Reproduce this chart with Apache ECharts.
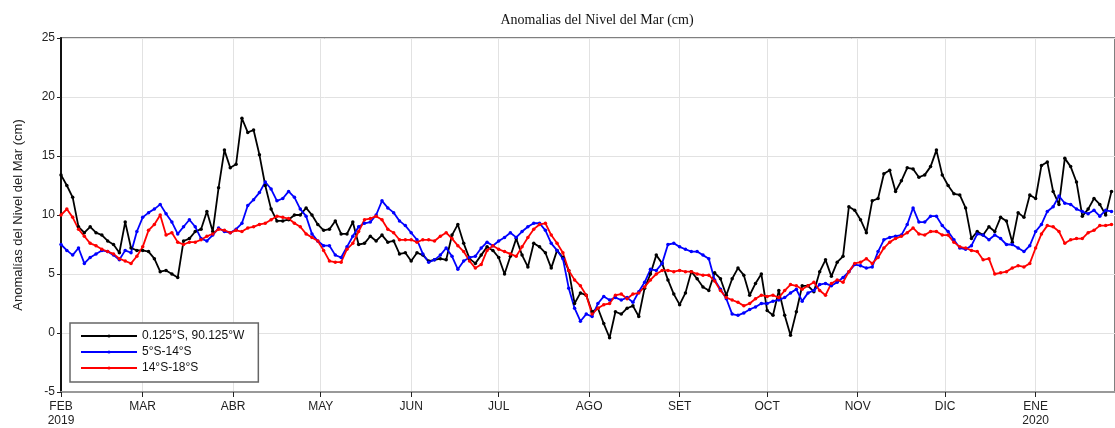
<!DOCTYPE html>
<html>
<head>
<meta charset="utf-8">
<script src="https://cdn.jsdelivr.net/npm/echarts@6/dist/echarts.min.js"></script>
<style>
  html, body { margin: 0; padding: 0; background: #fff; }
  #chart { width: 1115px; height: 428px; }
</style>
</head>
<body>
<div id="chart"></div>
<script>
// Daily sea-level anomaly series (cm), one value every 2 days starting 1 Feb 2019
const startDate = Date.UTC(2019, 1, 1);
const stepDays = 2;

const seriesNames = ['0.125°S, 90.125°W', '5°S-14°S', '14°S-18°S'];

const ecuatorial = [
  13.4,12.5,11.5,9.0,8.5,9.0,8.5,8.3,7.8,7.5,
  6.8,9.4,7.2,7.0,7.0,6.9,6.3,5.2,5.3,5.0,
  4.7,7.8,8.0,8.6,8.8,10.3,8.6,12.3,15.5,14.0,
  14.3,18.2,17.0,17.2,15.1,12.5,10.5,9.5,9.5,9.6,
  10.0,10.0,10.6,10.0,9.2,8.7,8.8,9.5,8.4,8.4,
  9.4,7.5,7.6,8.2,7.8,8.3,7.7,7.8,6.7,6.8,
  6.1,6.8,6.6,6.1,6.2,6.3,6.2,8.3,9.2,7.6,
  6.3,5.9,6.6,7.3,7.0,6.4,5.0,6.5,8.0,6.6,
  5.6,7.6,7.3,6.8,5.5,7.0,6.4,5.3,2.5,3.4,
  3.2,1.8,2.1,0.8,-0.4,1.8,1.6,2.1,2.3,1.4,
  3.8,5.0,6.6,5.9,4.5,3.3,2.4,3.4,5.2,4.6,
  3.9,3.6,5.1,4.6,3.2,4.6,5.5,4.9,3.2,4.2,
  5.0,1.9,1.5,3.6,1.5,-0.2,1.8,4.0,4.0,3.5,
  5.2,6.2,4.8,6.0,6.5,10.7,10.4,9.6,8.5,11.2,
  11.4,13.5,13.8,12.0,12.9,14.0,13.9,13.2,13.4,14.1,
  15.5,13.4,12.5,11.8,11.7,10.6,8.0,8.6,8.3,9.0,
  8.6,9.8,9.5,7.7,10.2,9.8,11.7,11.4,14.2,14.5,
  12.0,10.9,14.8,14.1,12.8,9.9,10.5,11.4,10.9,10.0,
  12.0
];

const franja5a14 = [
  7.5,7.0,6.6,7.2,5.9,6.4,6.7,7.0,6.9,6.6,
  6.2,7.0,6.8,8.6,9.8,10.2,10.5,10.9,10.1,9.4,
  8.4,9.0,9.6,9.0,8.0,7.8,8.3,8.9,8.6,8.5,
  8.8,9.3,10.8,11.3,11.9,12.8,12.2,11.2,11.4,12.0,
  11.5,10.5,9.9,8.4,7.8,7.4,7.4,6.6,6.4,7.3,
  8.2,9.0,9.3,9.4,10.0,11.2,10.6,10.2,9.5,9.1,
  8.5,7.9,6.7,6.0,6.2,6.6,7.2,6.5,5.4,6.1,
  6.4,6.5,7.2,7.7,7.4,7.8,8.1,8.5,8.1,8.6,
  9.0,9.3,9.3,8.7,7.6,7.0,6.3,3.8,2.1,1.0,
  1.6,1.4,2.5,3.1,2.8,3.0,2.8,3.0,2.6,3.5,
  4.3,5.4,5.3,5.9,7.5,7.6,7.3,7.1,6.9,6.9,
  6.6,6.3,4.5,3.7,2.9,1.6,1.5,1.7,2.0,2.2,
  2.5,2.5,2.7,2.8,3.0,3.4,3.7,2.7,3.4,3.6,
  4.1,4.2,4.0,4.3,4.7,5.2,5.8,5.7,5.5,5.6,
  6.9,7.9,8.1,8.2,8.3,9.2,10.6,9.4,9.4,9.9,
  9.9,9.1,8.6,7.9,7.2,7.1,7.4,8.4,8.3,7.9,
  8.3,8.0,7.5,7.5,7.2,6.9,7.4,8.6,9.2,10.3,
  10.7,11.6,11.0,10.9,10.5,10.3,10.1,10.4,9.9,10.4,
  10.3
];

const franja14a18 = [
  10.0,10.5,9.8,8.8,8.2,7.6,7.4,7.1,6.9,6.7,
  6.3,6.1,5.9,6.5,7.3,8.7,9.2,10.0,8.3,8.5,
  7.7,7.5,7.7,7.7,7.9,8.2,8.4,8.8,8.7,8.5,
  8.7,8.6,8.9,9.0,9.2,9.3,9.6,9.9,9.8,9.7,
  9.3,9.0,8.4,8.1,7.8,7.0,6.1,6.0,6.0,7.1,
  7.6,8.6,9.6,9.7,9.9,9.6,8.8,8.5,7.9,7.9,
  7.9,7.7,7.9,7.9,7.8,8.2,8.5,8.0,7.4,6.9,
  6.1,5.5,5.8,7.0,7.4,7.1,6.9,6.7,6.5,7.3,
  8.1,8.8,9.2,9.3,8.3,7.6,6.8,5.3,4.5,4.0,
  3.2,1.6,2.1,2.4,2.5,3.2,3.3,2.9,3.3,3.4,
  3.9,4.5,5.0,5.3,5.3,5.2,5.3,5.2,5.2,5.0,
  4.9,4.9,4.4,3.6,3.0,2.8,2.6,2.3,2.5,2.9,
  3.2,3.1,3.2,3.0,3.6,4.1,4.0,3.7,4.0,4.3,
  3.6,3.2,4.2,4.5,4.3,5.2,5.9,6.0,6.3,5.9,
  6.4,7.2,7.7,8.0,8.2,8.5,8.9,8.4,8.3,8.6,
  8.6,8.3,8.3,7.7,7.3,7.2,7.0,6.9,6.2,6.3,
  5.0,5.1,5.2,5.5,5.7,5.6,5.9,7.2,8.4,9.1,
  9.0,8.6,7.6,7.9,8.0,8.0,8.5,8.7,9.1,9.1,
  9.2
];

// Month tick labels, one per month starting Feb 2019
const monthLabels = ['FEB\n2019','MAR','ABR','MAY','JUN','JUL','AGO','SET','OCT','NOV','DIC','ENE\n2020'];
const yTicks = { min: -5, max: 25, interval: 5 };

// x is measured in days since the start date
const DAY = 86400000;
const monthTicks = monthLabels.map((_, k) => Math.round((Date.UTC(2019, 1 + k, 1) - startDate) / DAY));
const toPoints = vals => vals.map((v, i) => [i * stepDays, v]);

const chart = echarts.init(document.getElementById('chart'), null, { renderer: 'canvas' });

const lineSeries = (name, vals, color) => ({
  name: name,
  type: 'line',
  data: toPoints(vals),
  symbol: 'circle',
  symbolSize: 3.5,
  showSymbol: true,
  showAllSymbol: true,
  lineStyle: { color: color, width: 1.8 },
  itemStyle: { color: color },
  emphasis: { disabled: true }
});

chart.setOption({
  animation: false,
  backgroundColor: '#fff',
  title: {
    text: 'Anomalias del Nivel del Mar (cm)',
    left: 592,
    top: 8,
    textAlign: 'center',
    textStyle: { fontFamily: 'Liberation Serif', fontSize: 14, fontWeight: 'normal', color: '#111' }
  },
  legend: {
    orient: 'vertical',
    left: 70,
    top: 323,
    itemWidth: 56,
    itemHeight: 4,
    itemGap: 4,
    padding: [7, 14, 8, 10],
    backgroundColor: '#fff',
    borderColor: '#666',
    borderWidth: 1.5,
    textStyle: { fontFamily: 'Liberation Sans', fontSize: 12, color: '#111' },
    data: seriesNames
  },
  grid: {
    left: 61, top: 38, right: 0, bottom: 35,
    show: true, borderColor: '#555', borderWidth: 1.5, backgroundColor: 'transparent'
  },
  xAxis: {
    type: 'value',
    min: 0,
    max: 361.2,
    axisLine: { show: true, onZero: false, lineStyle: { color: '#999', width: 2 } },
    axisTick: { show: true, length: 5, lineStyle: { color: '#222', width: 1 }, customValues: monthTicks },
    axisLabel: {
      customValues: monthTicks,
      formatter: v => {
        const k = monthTicks.indexOf(Math.round(v));
        return k >= 0 ? monthLabels[k] : '';
      },
      fontFamily: 'Liberation Sans', fontSize: 12, color: '#222', lineHeight: 14, margin: 8
    },
    splitLine: { show: true, lineStyle: { color: '#e2e2e2', width: 1 } }
  },
  yAxis: {
    type: 'value',
    min: yTicks.min,
    max: yTicks.max,
    interval: yTicks.interval,
    name: 'Anomalías del Nivel del Mar (cm)',
    nameLocation: 'middle',
    nameGap: 36,
    nameTextStyle: { fontFamily: 'Liberation Sans', fontSize: 13, color: '#222' },
    axisLine: { show: true, onZero: false, lineStyle: { color: '#111', width: 2 } },
    axisTick: { show: true, length: 4, lineStyle: { color: '#222' } },
    axisLabel: { fontFamily: 'Liberation Sans', fontSize: 12, color: '#222', margin: 6 },
    splitLine: { show: true, lineStyle: { color: '#e2e2e2', width: 1 } }
  },
  series: [
    lineSeries(seriesNames[0], ecuatorial, '#000000'),
    lineSeries(seriesNames[1], franja5a14, '#0000ff'),
    lineSeries(seriesNames[2], franja14a18, '#ff0000')
  ]
});
</script>
</body>
</html>
